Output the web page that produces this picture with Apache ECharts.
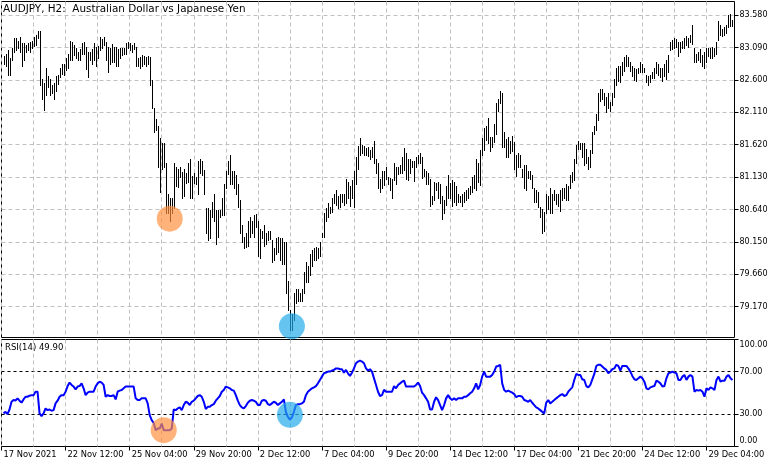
<!DOCTYPE html>
<html>
<head>
<meta charset="utf-8">
<script src="https://cdn.jsdelivr.net/npm/echarts@6.0.0/dist/echarts.min.js"></script>
<style>
  html, body { margin: 0; padding: 0; background: #fff; }
  #chart { width: 781px; height: 467px; }
</style>
</head>
<body>
<div id="chart"></div>
<script>
// AUDJPY H2 bars (bar highs / lows, oldest first)
const highs = [
  82.96, 83.00, 83.05, 82.94, 83.09, 83.23, 83.23, 83.19, 83.25, 83.16,
  83.16, 83.13, 83.16, 83.17, 83.19, 83.25, 83.28, 83.35, 83.35, 82.61,
  82.55, 82.79, 82.66, 82.61, 82.52, 82.55, 82.66, 82.67, 82.79, 82.85,
  82.85, 82.93, 83.00, 83.19, 83.17, 83.13, 83.08, 83.02, 83.07, 83.16,
  83.17, 83.10, 83.02, 83.02, 83.07, 83.16, 83.10, 83.11, 83.25, 83.22,
  83.25, 83.17, 83.10, 83.08, 83.14, 83.10, 83.10, 83.07, 83.08, 83.08,
  83.08, 83.16, 83.17, 83.16, 83.13, 83.16, 83.10, 82.93, 82.95, 82.98,
  82.96, 82.95, 82.96, 82.95, 82.60, 82.17, 82.01, 81.91, 81.72, 81.64,
  81.64, 81.34, 80.87, 80.82, 80.82, 81.34, 81.29, 81.26, 81.28, 81.20,
  81.25, 81.19, 81.34, 81.41, 81.14, 81.19, 81.13, 81.38, 81.41, 81.38,
  81.23, 80.66, 80.66, 80.63, 80.75, 80.87, 80.63, 80.63, 80.63, 80.81,
  81.03, 81.22, 81.37, 81.47, 81.22, 81.22, 81.16, 81.02, 80.78, 80.41,
  80.23, 80.29, 80.47, 80.52, 80.46, 80.55, 80.57, 80.47, 80.34, 80.32,
  80.41, 80.29, 80.32, 80.31, 80.17, 80.05, 80.20, 80.22, 80.20, 80.20,
  80.14, 80.14, 79.55, 79.11, 79.06, 79.37, 79.44, 79.43, 79.38, 79.44,
  79.69, 79.84, 79.79, 79.97, 80.02, 80.05, 80.07, 80.05, 80.14, 80.29,
  80.58, 80.66, 80.73, 80.67, 80.81, 80.88, 80.93, 80.85, 80.88, 80.88,
  80.88, 81.10, 81.05, 80.99, 81.08, 81.22, 81.43, 81.60, 81.72, 81.61,
  81.60, 81.57, 81.58, 81.54, 81.58, 81.67, 81.41, 81.34, 81.10, 81.22,
  81.22, 81.28, 81.13, 81.11, 81.10, 81.34, 81.28, 81.29, 81.31, 81.44,
  81.57, 81.49, 81.41, 81.40, 81.37, 81.38, 81.43, 81.46, 81.49, 81.44,
  81.26, 81.22, 81.19, 81.10, 80.85, 81.05, 81.04, 81.05, 81.02, 80.85,
  80.79, 81.00, 81.16, 81.04, 81.08, 81.05, 81.00, 80.88, 80.85, 80.87,
  80.91, 80.93, 80.96, 81.00, 81.13, 81.16, 81.41, 81.35, 81.54, 81.72,
  81.87, 81.90, 82.02, 81.73, 81.73, 81.93, 82.25, 82.31, 82.43, 82.41,
  81.82, 81.70, 81.73, 81.67, 81.75, 81.66, 81.47, 81.49, 81.47, 81.26,
  81.31, 81.32, 81.22, 81.22, 81.16, 80.97, 80.93, 80.90, 80.67, 80.64,
  80.60, 80.87, 80.85, 80.97, 80.87, 80.93, 80.88, 80.87, 80.94, 80.97,
  80.97, 81.03, 80.99, 81.16, 81.20, 81.41, 81.61, 81.67, 81.64, 81.64,
  81.64, 81.55, 81.44, 81.54, 81.81, 81.90, 82.08, 82.41, 82.47, 82.46,
  82.40, 82.34, 82.41, 82.26, 82.41, 82.61, 82.78, 82.81, 82.81, 82.88,
  82.95, 82.98, 82.95, 82.87, 82.82, 82.79, 82.76, 82.78, 82.87, 82.85,
  82.78, 82.67, 82.66, 82.67, 82.72, 82.78, 82.87, 82.84, 82.79, 82.78,
  82.85, 82.90, 82.98, 83.17, 83.20, 83.23, 83.22, 83.17, 83.17, 83.19,
  83.23, 83.26, 83.23, 83.29, 83.43, 83.08, 83.00, 83.02, 83.07, 82.98,
  83.02, 83.08, 83.08, 83.08, 83.10, 83.08, 83.17, 83.49, 83.43, 83.38,
  83.41, 83.43, 83.58, 83.60, 83.51
];
const lows = [
  82.84, 82.82, 82.67, 82.67, 82.90, 83.02, 83.05, 83.09, 83.02, 82.81,
  82.90, 83.02, 83.05, 83.03, 83.08, 83.11, 83.13, 83.23, 82.52, 82.31,
  82.14, 82.38, 82.49, 82.38, 82.40, 82.31, 82.43, 82.54, 82.64, 82.69,
  82.67, 82.75, 82.78, 82.90, 82.90, 82.98, 82.93, 82.91, 82.91, 83.00,
  83.00, 82.76, 82.64, 82.90, 82.85, 82.91, 82.81, 82.93, 83.05, 83.08,
  83.13, 82.90, 82.72, 82.85, 82.87, 82.87, 82.81, 82.81, 82.93, 82.98,
  83.00, 83.00, 83.08, 83.05, 83.02, 83.07, 82.82, 82.81, 82.79, 82.81,
  82.85, 82.82, 82.85, 82.52, 82.17, 81.81, 81.84, 81.28, 80.90, 81.26,
  81.28, 80.58, 80.58, 80.47, 80.58, 80.66, 80.99, 80.98, 81.13, 80.82,
  80.85, 81.04, 81.05, 80.82, 80.82, 81.04, 81.02, 80.88, 81.19, 81.16,
  80.88, 80.29, 80.17, 80.20, 80.52, 80.47, 80.12, 80.22, 80.52, 80.55,
  80.55, 80.96, 81.17, 81.03, 81.03, 80.97, 80.88, 80.67, 80.28, 80.14,
  80.05, 80.07, 80.08, 80.22, 80.29, 80.22, 80.37, 79.94, 79.91, 80.20,
  80.09, 80.12, 80.17, 80.19, 79.84, 79.87, 79.97, 79.99, 79.87, 79.82,
  79.82, 79.38, 79.11, 78.81, 78.82, 78.96, 79.23, 79.26, 79.26, 79.26,
  79.37, 79.54, 79.54, 79.64, 79.79, 79.87, 79.87, 79.91, 79.93, 80.22,
  80.22, 80.47, 80.52, 80.58, 80.60, 80.73, 80.70, 80.66, 80.67, 80.75,
  80.70, 80.73, 80.81, 80.69, 80.82, 80.67, 81.03, 81.26, 81.46, 81.49,
  81.46, 81.46, 81.45, 81.41, 81.43, 81.34, 81.19, 80.97, 80.91, 80.96,
  81.01, 81.10, 81.03, 80.93, 80.82, 81.08, 81.03, 81.17, 81.19, 81.19,
  81.23, 81.10, 81.08, 81.19, 81.28, 81.07, 81.29, 81.34, 81.34, 81.12,
  81.14, 81.03, 81.02, 80.69, 80.72, 80.78, 80.94, 80.82, 80.73, 80.49,
  80.58, 80.70, 80.81, 80.81, 80.69, 80.75, 80.70, 80.75, 80.75, 80.69,
  80.76, 80.78, 80.82, 80.87, 80.91, 80.97, 80.94, 81.05, 81.01, 81.46,
  81.54, 81.69, 81.64, 81.52, 81.58, 81.66, 81.79, 82.13, 82.25, 81.58,
  81.58, 81.43, 81.43, 81.49, 81.52, 81.25, 81.14, 81.28, 81.28, 81.13,
  80.97, 80.94, 81.11, 81.10, 80.97, 80.75, 80.76, 80.67, 80.52, 80.28,
  80.32, 80.58, 80.64, 80.58, 80.58, 80.78, 80.72, 80.69, 80.61, 80.78,
  80.81, 80.79, 80.79, 80.97, 81.05, 81.08, 81.34, 81.55, 81.55, 81.43,
  81.32, 81.35, 81.26, 81.28, 81.49, 81.78, 81.84, 81.99, 82.28, 82.32,
  82.22, 82.11, 82.17, 82.13, 82.22, 82.34, 82.52, 82.58, 82.57, 82.67,
  82.73, 82.82, 82.82, 82.73, 82.66, 82.60, 82.58, 82.70, 82.72, 82.72,
  82.72, 82.57, 82.52, 82.57, 82.63, 82.63, 82.70, 82.67, 82.64, 82.58,
  82.66, 82.61, 82.72, 83.05, 83.07, 83.08, 83.10, 82.96, 83.02, 83.08,
  83.08, 83.13, 83.10, 83.17, 83.14, 82.87, 82.87, 82.90, 82.88, 82.82,
  82.78, 82.88, 82.96, 82.93, 82.93, 82.96, 82.99, 83.20, 83.28, 83.26,
  83.29, 83.32, 83.40, 83.42, 83.42
];
// RSI(14), one value per bar
const rsi = [
  31, 32.4, 30.3, 34.6, 41.8, 43.4, 43, 45, 42.8, 41,
  44, 46.5, 46.5, 47.5, 48, 48, 51.2, 51.2, 30.9, 28.4,
  31, 35.6, 34, 34.6, 33.4, 34, 40.3, 42.8, 46.5, 48,
  48, 51.2, 56.5, 59.7, 57.5, 56, 53.4, 56, 56.5, 59,
  54.4, 48, 50.3, 51.2, 51.2, 51.2, 56, 59, 60.6, 59.7,
  57.5, 46.5, 48, 47.2, 47.2, 48, 44, 51.2, 52.2, 52.8,
  54.4, 56, 56, 56, 56, 56, 45, 43.4, 43.4, 45,
  45, 45, 40.3, 29.3, 24.6, 22, 15.2, 16.8, 16.8, 21.5,
  15.2, 15.2, 15.2, 15.2, 16.8, 34.6, 34, 35.6, 36.5, 34,
  38.7, 41.8, 40.9, 38.7, 41.8, 42.8, 45, 47.2, 48, 46.5,
  41.8, 35, 37.1, 37.1, 38.7, 39.6, 42.8, 45, 47.2, 51.2,
  52.8, 56, 55.3, 54.4, 52.8, 52.2, 48, 42.8, 38.7, 36.5,
  35.6, 37.8, 40.9, 42.8, 43.4, 42.8, 41.8, 38.7, 38.7, 42.8,
  43.4, 42.8, 39.6, 38.7, 40.3, 41.8, 40.9, 38.7, 40.3, 41.8,
  44, 32.4, 27.7, 25.2, 27.1, 32.4, 38.7, 39.6, 39.6, 40.3,
  41.8, 48, 51.2, 52.8, 54.4, 55.3, 56.5, 59, 62.2, 65.3,
  68.4, 69, 70, 70, 71, 71.6, 73, 73, 72.2, 72.2,
  69, 71.6, 68.4, 66, 69, 73, 77.8, 79.4, 80.3, 79.4,
  77.8, 73, 71, 72.2, 70, 63.7, 57.5, 51.2, 47.2, 48,
  53, 51.2, 51.2, 51.2, 51.2, 56.5, 54.4, 57.5, 59, 60.6,
  61.5, 56, 56, 56, 56, 56, 57.5, 59.7, 56.5, 50.3,
  48, 45, 41.8, 34.6, 34.6, 41.8, 46, 43.4, 38.7, 34,
  38.7, 45, 48, 45, 43.4, 45, 43.4, 45, 45, 45,
  46.5, 46.5, 48, 49.7, 51.2, 54.4, 59, 53.4, 57.5, 65.3,
  70, 65.3, 65.3, 65.3, 66.9, 70, 74.7, 75.3, 76.3, 59,
  52.8, 51.2, 52.2, 51.2, 50.3, 49, 46, 47.2, 47.2, 46.5,
  43.4, 42.8, 41.8, 43.4, 40.9, 38.7, 36.5, 35.6, 34, 32.4,
  31, 41, 43.4, 40.3, 41.8, 43.4, 45, 46.5, 48, 49,
  47.2, 48, 51.2, 53.4, 55.3, 62.2, 67.8, 66.9, 66.9, 62.8,
  62.2, 56.5, 55.3, 57.5, 62.8, 67.8, 75.3, 76.3, 76.3, 74.7,
  73, 71.6, 68.4, 70, 72.2, 73, 76.3, 75.3, 71, 75.3,
  75.3, 75.3, 73, 70, 66, 62.8, 62.2, 63.7, 65.3, 63.7,
  60.6, 54.4, 53.4, 55.3, 56, 56.5, 61.5, 60.6, 59, 56,
  56.5, 63.7, 68.4, 69, 70, 69, 68.4, 62.2, 62.2, 65.3,
  66.9, 62.2, 65.3, 66.9, 65.3, 51.2, 52.8, 52.2, 52.8, 51.2,
  46.5, 54.4, 52.8, 55.3, 54.4, 52.8, 62.2, 65.3, 60.6, 61.5,
  61.5, 65.3, 66.9, 63.7, 62.2
];

const timeLabels = [
  '17 Nov 2021', '22 Nov 12:00', '25 Nov 04:00', '29 Nov 20:00',
  '2 Dec 12:00', '7 Dec 04:00', '9 Dec 20:00', '14 Dec 12:00',
  '17 Dec 04:00', '21 Dec 20:00', '24 Dec 12:00', '29 Dec 04:00'
];
const priceTicks = [79.17, 79.66, 80.15, 80.64, 81.13, 81.62, 82.11, 82.60, 83.09, 83.58];
const rsiTicks = [0, 30, 70, 100];

// highlighted spots (bar slot, value)
const circleBars = [84, 145];
const circlePrices = [80.50, 78.87];
const rsiCircleBars = [81, 144];
const rsiCircleValues = [15.3, 29.6];
const circleColors = ['rgba(255,143,61,0.86)', 'rgba(31,169,233,0.86)'];

const FONT = 'DejaVu Sans';
const SLOTS = highs.length + 2; // one hidden slot under the left edge, one past the end
let cats = [];
for (let k = 0; k < SLOTS; k++) cats.push(String(k));

let bars = highs.map((h, i) => [i + 1, lows[i], h]);
let rsiData = [null].concat(rsi);

const everyGrid = (i) => i % 16 === 0;
const everyLabel = (i) => i % 32 === 0;
const gridDash = { color: '#c0c0c0', type: [4, 3], width: 1 };

let myChart = echarts.init(document.getElementById('chart'), null, { renderer: 'canvas' });
myChart.setOption({
  animation: false,
  backgroundColor: '#fff',
  textStyle: { fontFamily: FONT },
  title: [
    {
      text: 'AUDJPY, H2:  Australian Dollar vs Japanese Yen',
      left: 3, top: 4, padding: 0,
      textStyle: { fontSize: 10.4, fontWeight: 'normal', color: '#000', fontFamily: FONT }
    },
    {
      text: 'RSI(14) 49.90',
      left: 5, top: 343, padding: 0,
      textStyle: { fontSize: 8.5, fontWeight: 'normal', color: '#000', fontFamily: FONT }
    }
  ],
  grid: [
    { left: 1.5, top: 1.5, width: 733, height: 336, show: true, borderColor: '#000', borderWidth: 1 },
    { left: 1.5, top: 339.5, width: 733, height: 107, show: true, borderColor: '#000', borderWidth: 1 }
  ],
  xAxis: [
    {
      type: 'category', gridIndex: 0, data: cats, boundaryGap: false,
      axisLine: { show: false }, axisTick: { show: false }, axisLabel: { show: false },
      splitLine: { show: true, interval: everyGrid, lineStyle: gridDash }
    },
    {
      type: 'category', gridIndex: 1, data: cats, boundaryGap: false,
      axisLine: { show: false },
      axisTick: { show: true, interval: everyLabel, length: 4, lineStyle: { color: '#000' } },
      axisLabel: {
        interval: everyLabel, align: 'left', margin: 4, padding: [0, 0, 0, 2],
        fontSize: 8.3, color: '#000', fontFamily: FONT,
        formatter: (v, i) => (i % 32 === 0 ? timeLabels[i / 32] || '' : '')
      },
      splitLine: { show: true, interval: everyGrid, lineStyle: gridDash }
    }
  ],
  yAxis: [
    {
      type: 'value', gridIndex: 0, position: 'right', min: 78.70, max: 83.79,
      axisLine: { show: false },
      axisTick: { show: true, length: 4, customValues: priceTicks, lineStyle: { color: '#000' } },
      axisLabel: {
        customValues: priceTicks, margin: 5, fontSize: 8, color: '#000', fontFamily: FONT,
        formatter: (v) => v.toFixed(3)
      },
      splitLine: { show: true, lineStyle: gridDash }
    },
    {
      type: 'value', gridIndex: 1, position: 'right', min: 0, max: 100,
      axisLine: { show: false },
      axisTick: { show: true, length: 4, customValues: rsiTicks, lineStyle: { color: '#000' } },
      axisLabel: {
        customValues: rsiTicks, margin: 5, fontSize: 8, color: '#000', fontFamily: FONT,
        formatter: (v) => (v === 100 ? '{t|100.00}' : v === 0 ? '{b|0.00}' : v.toFixed(2)),
        rich: {
          t: { fontSize: 8, color: '#000', fontFamily: FONT, padding: [10, 0, 0, 0] },
          b: { fontSize: 8, color: '#000', fontFamily: FONT, padding: [0, 0, 12, 0] }
        }
      },
      splitLine: { show: true, lineStyle: { color: '#000', type: [3, 3], width: 1 } }
    }
  ],
  series: [
    {
      name: 'AUDJPY',
      type: 'custom',
      xAxisIndex: 0, yAxisIndex: 0,
      encode: { x: 0, y: [1, 2] },
      data: bars,
      renderItem: function (params, api) {
        let hi = api.coord([api.value(0), api.value(2)]);
        let lo = api.coord([api.value(0), api.value(1)]);
        let x = Math.round(hi[0]) + 0.5;
        return {
          type: 'line',
          shape: { x1: x, y1: Math.round(hi[1]), x2: x, y2: Math.round(lo[1]) + 1 },
          style: { stroke: '#000', lineWidth: 1 }
        };
      }
    },
    {
      name: 'RSI',
      type: 'line',
      xAxisIndex: 1, yAxisIndex: 1,
      data: rsiData,
      showSymbol: false,
      symbol: 'none',
      lineStyle: { color: '#0000ff', width: 2 },
      z: 3
    },
    {
      type: 'scatter',
      xAxisIndex: 0, yAxisIndex: 0,
      symbolSize: 26,
      clip: false,
      data: circleBars.map((b, i) => ({ value: [b, circlePrices[i]], itemStyle: { color: circleColors[i] } })),
      z: 5
    },
    {
      type: 'scatter',
      xAxisIndex: 1, yAxisIndex: 1,
      symbolSize: 26,
      clip: false,
      data: rsiCircleBars.map((b, i) => ({ value: [b, rsiCircleValues[i]], itemStyle: { color: circleColors[i] } })),
      z: 5
    }
  ]
});
window.addEventListener('resize', () => myChart.resize());
</script>
</body>
</html>
